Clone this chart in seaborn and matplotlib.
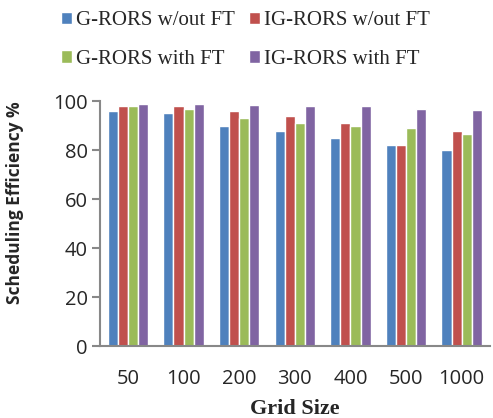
import matplotlib
matplotlib.use("Agg")
import matplotlib.pyplot as plt
import seaborn as sns
import pandas as pd

grid_sizes = ["50", "100", "200", "300", "400", "500", "1000"]
series = ["G-RORS w/out FT", "IG-RORS w/out FT", "G-RORS with FT", "IG-RORS with FT"]
g_rors_no_ft = [96, 95, 90, 88, 85, 82, 80]
ig_rors_no_ft = [98, 98, 96, 94, 91, 82, 88]
g_rors_ft = [98, 97, 93, 91, 90, 89, 86.5]
ig_rors_ft = [99, 99, 98.5, 98, 98, 97, 96.5]
colors = ["#4F81BD", "#C0504D", "#9BBB59", "#8064A2"]

rows = []
for name, vals in zip(series, [g_rors_no_ft, ig_rors_no_ft, g_rors_ft, ig_rors_ft]):
    for g, v in zip(grid_sizes, vals):
        rows.append({"Grid Size": g, "Series": name, "Efficiency": v})
df = pd.DataFrame(rows)

sns.set_style("white")
fig = plt.figure(figsize=(4.93, 4.18), dpi=100)
ax = fig.add_axes([0.203, 0.172, 0.79, 0.586])

sns.barplot(data=df, x="Grid Size", y="Efficiency", hue="Series",
            order=grid_sizes, hue_order=series, palette=colors,
            width=0.73, saturation=1, errorbar=None, ax=ax)

ax.set_ylim(0, 100)
ax.set_yticks([0, 20, 40, 60, 80, 100])
ax.set_xlim(-0.5, 6.5)
for s in ["top", "right"]:
    ax.spines[s].set_visible(False)
for s in ["left", "bottom"]:
    ax.spines[s].set_color("#888888")
    ax.spines[s].set_linewidth(1.5)
ax.tick_params(axis="y", left=True, length=6, width=1.5, color="#888888",
               labelsize=14.5, pad=3)
ax.tick_params(axis="x", bottom=False, labelsize=14.5, pad=13)
for lab in ax.get_xticklabels() + ax.get_yticklabels():
    lab.set_family("Open Sans")

ax.set_ylabel("Scheduling Efficiency %", fontsize=12.5, fontweight="bold",
              family="Open Sans")
ax.yaxis.set_label_coords(-0.195, 0.584)
ax.set_xlabel("Grid Size", fontsize=16, fontweight="bold",
              family="Liberation Serif", labelpad=7)

handles, labels = ax.get_legend_handles_labels()
ax.legend_.remove()
order = [0, 2, 1, 3]
fig.legend([handles[i] for i in order], [labels[i] for i in order],
           loc="upper center", bbox_to_anchor=(0.498, 1.018),
           ncol=2, frameon=False, prop={"family": "Liberation Serif", "size": 15},
           handlelength=0.55, handleheight=0.55, handletextpad=0.2,
           columnspacing=0.65, labelspacing=0.95)

fig.savefig("out.png", dpi=100)
